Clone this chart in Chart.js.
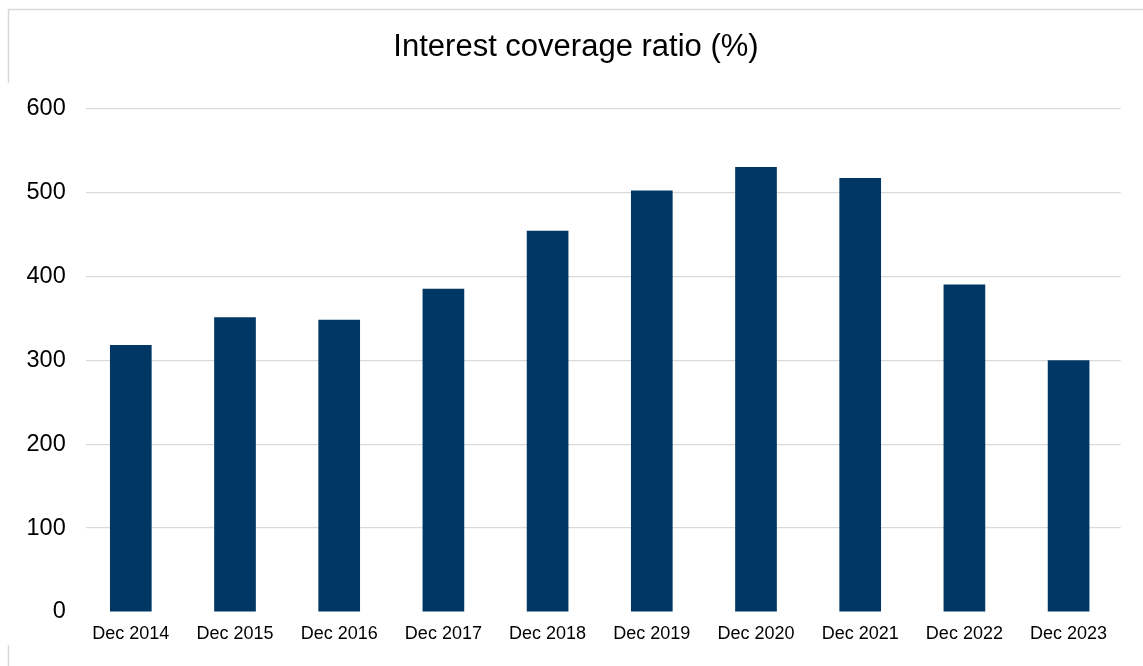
<!DOCTYPE html>
<html>
<head>
<meta charset="utf-8">
<script src="https://cdn.jsdelivr.net/npm/chart.js@4/dist/chart.umd.min.js"></script>
<style>
  html, body { margin: 0; padding: 0; background: #ffffff; }
  #wrap { position: relative; width: 1143px; height: 666px; }
  canvas { display: block; }
</style>
</head>
<body>
<div id="wrap"><canvas id="c" width="1143" height="666"></canvas></div>
<script>
const chartTitle = "Interest coverage ratio (%)";
const categories = ["Dec 2014", "Dec 2015", "Dec 2016", "Dec 2017", "Dec 2018", "Dec 2019", "Dec 2020", "Dec 2021", "Dec 2022", "Dec 2023"];
const coverageValues = [318, 351, 348, 385, 454, 502, 530, 517, 390, 300];
const yTicks = [0, 100, 200, 300, 400, 500, 600];

const framePlugin = {
  id: 'frame',
  beforeDraw(chart) {
    const ctx = chart.ctx;
    ctx.save();
    ctx.fillStyle = '#ffffff';
    ctx.fillRect(0, 0, chart.width, chart.height);
    ctx.strokeStyle = '#d9d9d9';
    ctx.lineWidth = 1.5;
    ctx.beginPath();
    ctx.moveTo(8.5, 83);
    ctx.lineTo(8.5, 9.5);
    ctx.lineTo(chart.width, 9.5);
    ctx.moveTo(8.5, 645);
    ctx.lineTo(8.5, chart.height);
    ctx.stroke();
    ctx.restore();
  },
  beforeDatasetsDraw(chart) {
    // gridlines in the reference start a few pixels right of the plot edge
    const a = chart.chartArea;
    const ctx = chart.ctx;
    ctx.save();
    ctx.fillStyle = '#ffffff';
    ctx.fillRect(a.left - 1, a.top - 3, 86 - a.left + 1, a.bottom - a.top + 6);
    ctx.restore();
  },
  afterDraw(chart) {
    const ctx = chart.ctx;
    ctx.save();
    ctx.fillStyle = '#000000';
    ctx.font = '31px "Liberation Sans", Arial, sans-serif';
    ctx.textAlign = 'center';
    ctx.textBaseline = 'alphabetic';
    ctx.fillText(chartTitle, 576, 56);
    ctx.restore();
  }
};

new Chart(document.getElementById('c'), {
  type: 'bar',
  data: {
    labels: categories,
    datasets: [{
      label: chartTitle,
      data: coverageValues,
      backgroundColor: '#013764',
      borderWidth: 0,
      barPercentage: 0.4,
      categoryPercentage: 1.0
    }]
  },
  options: {
    responsive: false,
    animation: false,
    devicePixelRatio: 1,
    layout: { padding: { top: 108.3, right: 22.3, bottom: 0, left: 0 } },
    plugins: {
      legend: { display: false },
      title: { display: false },
      tooltip: { enabled: false }
    },
    scales: {
      x: {
        grid: { display: false, drawTicks: false },
        border: { display: false },
        ticks: {
          color: '#000000',
          font: { family: '"Liberation Sans", Arial, sans-serif', size: 18 },
          padding: 11,
          maxRotation: 0,
          autoSkip: false
        },
        afterFit(scale) { scale.height = 54; }
      },
      y: {
        min: 0,
        max: 600,
        afterBuildTicks(scale) { scale.ticks = yTicks.map(v => ({ value: v })); },
        grid: {
          drawTicks: false,
          lineWidth: 1.2,
          color: ctx => (ctx.tick && ctx.tick.value === 0) ? 'rgba(0,0,0,0)' : '#d9d9d9'
        },
        border: { display: false },
        ticks: {
          color: '#000000',
          font: { family: '"Liberation Sans", Arial, sans-serif', size: 23.5 },
          padding: 13
        },
        afterFit(scale) { scale.width = 78.7; }
      }
    }
  },
  plugins: [framePlugin]
});
</script>
</body>
</html>
